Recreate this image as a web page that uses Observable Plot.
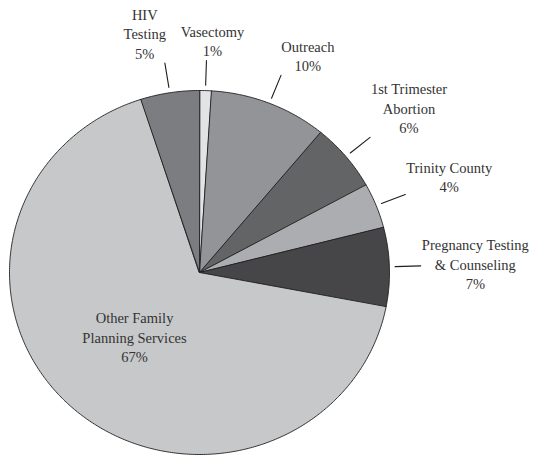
<!DOCTYPE html>
<html>
<head>
<meta charset="utf-8">
<script src="https://cdn.jsdelivr.net/npm/d3@7"></script>
<script src="https://cdn.jsdelivr.net/npm/@observablehq/plot@0.6"></script>
<style>
  html, body { margin: 0; padding: 0; background: #fff; }
  #chart svg { display: block; }
</style>
</head>
<body>
<div id="chart"></div>
<script>
// Data (clockwise from 12 o'clock)
const categories = ["Vasectomy", "Outreach", "1st Trimester Abortion", "Trinity County", "Pregnancy Testing & Counseling", "Other Family Planning Services", "HIV Testing"];
const values = [1, 10, 6, 4, 7, 67, 5];
const labelLines = [
  ["Vasectomy", "1%"],
  ["Outreach", "10%"],
  ["1st Trimester", "Abortion", "6%"],
  ["Trinity County", "4%"],
  ["Pregnancy Testing", "& Counseling", "7%"],
  ["Other Family", "Planning Services", "67%"],
  ["HIV", "Testing", "5%"]
];
const sliceColors = ["#e2e3e4", "#939498", "#636466", "#acadb0", "#464648", "#c7c8ca", "#7c7d80"];

const W = 548, H = 456;
const cx = 199, cy = 272, rx = 190, ry = 182;
const FONT_SIZE = 14.5, LINE_H = 19.5;
const FONT = "'Liberation Serif', 'DejaVu Serif', serif";

const ctx = document.createElement("canvas").getContext("2d");
ctx.font = `${FONT_SIZE}px ${FONT}`;
const textW = (t) => ctx.measureText(t).width;

const total = d3.sum(values);
let acc = 0;
const slices = values.map((v, i) => {
  const a0 = acc / total * 2 * Math.PI;
  acc += v;
  const a1 = acc / total * 2 * Math.PI;
  return {name: categories[i], value: v, a0, a1, mid: (a0 + a1) / 2, inside: v > 30};
});

// polygon points for each slice in unit coordinates (x right, y up)
const polyPts = [];
for (const s of slices) {
  polyPts.push({name: s.name, x: 0, y: 0});
  const n = Math.max(2, Math.ceil((s.a1 - s.a0) / 0.01));
  for (let k = 0; k <= n; k++) {
    const a = s.a0 + (s.a1 - s.a0) * k / n;
    polyPts.push({name: s.name, x: Math.sin(a), y: Math.cos(a)});
  }
}

const clamp = (v, lo, hi) => Math.max(lo, Math.min(hi, v));
// leader lines and labels
const leaders = [];
const labels = [];
for (const [i, s] of slices.entries()) {
  const lines = labelLines[i];
  const a = s.mid;
  let ux, uy;
  if (s.inside) {
    ux = 0.49 * Math.sin(a + 0.05);
    uy = 0.49 * Math.cos(a + 0.05);
  } else {
    leaders.push({id: i, x: 1.03 * Math.sin(a), y: 1.03 * Math.cos(a)});
    leaders.push({id: i, x: 1.165 * Math.sin(a), y: 1.165 * Math.cos(a)});
    // anchor point in pixels
    const px = cx + 1.17 * rx * Math.sin(a);
    const py = cy - 1.17 * ry * Math.cos(a);
    const w = d3.max(lines, textW);
    const h = lines.length * LINE_H;
    const lx = px + (w / 2) * clamp(Math.sin(a) * 6, -1, 1);
    const ly = py - (h / 2) * clamp(Math.cos(a) * 2.5, -1, 1);
    ux = (lx - cx) / rx;
    uy = (cy - ly) / ry;
  }
  labels.push({x: ux, y: uy, text: lines.join("\n")});
}

const chart = Plot.plot({
  width: W,
  height: H,
  margin: 0,
  x: {domain: [-cx / rx, (W - cx) / rx], range: [0, W], axis: null},
  y: {domain: [-(H - cy) / ry, cy / ry], range: [H, 0], axis: null},
  color: {domain: categories, range: sliceColors},
  style: {fontFamily: FONT, background: "#fff"},
  marks: [
    Plot.line(polyPts, {x: "x", y: "y", z: "name", fill: "name", stroke: "#1e1e1e", strokeWidth: 0.9, curve: "linear-closed"}),
    Plot.line(leaders, {x: "x", y: "y", z: "id", stroke: "#1e1e1e", strokeWidth: 1.1}),
    Plot.text(labels, {x: "x", y: "y", text: "text", fill: "#333", fontSize: FONT_SIZE, lineHeight: LINE_H / FONT_SIZE, textAnchor: "middle", lineAnchor: "middle"})
  ]
});
document.getElementById("chart").append(chart);
</script>
</body>
</html>
